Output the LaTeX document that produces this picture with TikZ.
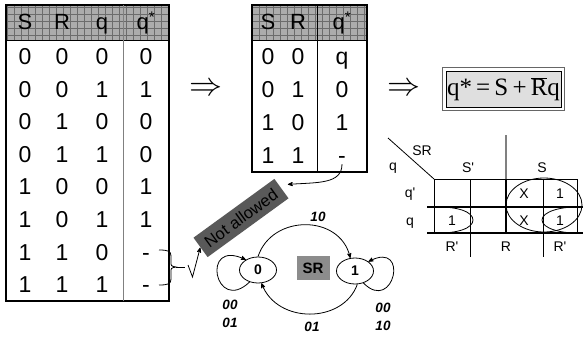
\documentclass[tikz,border=0pt]{standalone}
\usepackage{fontspec}
\setmainfont{Liberation Sans}
\newfontfamily\timesfont{Liberation Serif}
\usetikzlibrary{arrows}
\usetikzlibrary{shapes.geometric}
\tikzset{
    cell/.style = {inner sep=0pt, text height=16.5pt, text depth=0pt, font=\fontsize{23}{25}\selectfont},
    hcell/.style = {inner sep=0pt, text height=15.7pt, text depth=0pt, font=\fontsize{22}{24}\selectfont},
    head_fill/.style = {fill=gray!65},
    head_grid/.style = {gray!85!black, very thin, step=7pt},
    arrow_sym/.style = {inner sep=0pt},
    state_node/.style = {ellipse, draw=black, thick, minimum width=37pt, minimum height=26pt, inner sep=0pt, font=\bfseries\fontsize{14}{16}\selectfont},
    tlabel/.style = {inner sep=0pt, text height=9.6pt, text depth=0pt, font=\bfseries\itshape\fontsize{13.5}{15}\selectfont},
    klabel/.style = {inner sep=0pt, text height=10pt, text depth=0pt, font=\fontsize{14}{16}\selectfont}
}

\begin{document}
\begin{tikzpicture}[x=1pt, y=-1pt, >=stealth', thick]
\useasboundingbox (0,0) rectangle (583,338);

% full truth table
\fill[head_fill] (6,5) rectangle (169,40);
\draw[head_grid] (6,5) grid (169,40);
\draw[line width=1.5pt] (6,5) rectangle (169,301);
\draw[line width=1pt] (6,40) -- (169,40);
\draw[gray, line width=0.8pt] (123,5) -- (123,301);
\node[hcell] (ah-s) at (25,22) {S};
\node[hcell] (ah-r) at (62,22) {R};
\node[hcell] (ah-q) at (102,22) {q};
\node[hcell] (ah-n) at (146,22) {q\textsuperscript{*}};
\foreach \s/\r/\q/\n [count=\i] in {0/0/0/0, 0/0/1/1, 0/1/0/0, 0/1/1/0, 1/0/0/1, 1/0/1/1, 1/1/0/-, 1/1/1/-} {
    \node[cell] (a\i-s) at (25, {40+32.6*(\i-0.5)}) {\s};
    \node[cell] (a\i-r) at (62, {40+32.6*(\i-0.5)}) {\r};
    \node[cell] (a\i-q) at (102, {40+32.6*(\i-0.5)}) {\q};
    \node[cell] (a\i-n) at (146, {40+32.6*(\i-0.5)}) {\n};
}

% reduced table
\fill[head_fill] (252,5) rectangle (367,40);
\draw[head_grid] (252,5) grid (367,40);
\draw[line width=1.5pt] (252,5) rectangle (367,172);
\draw[line width=1pt] (252,40) -- (367,40);
\draw[line width=0.8pt] (317,5) -- (317,172);
\node[hcell] (bh-s) at (268,22) {S};
\node[hcell] (bh-r) at (298,22) {R};
\node[hcell] (bh-n) at (342,22) {q\textsuperscript{*}};
\foreach \s/\r/\n [count=\i] in {0/0/q, 0/1/0, 1/0/1, 1/1/-} {
    \node[cell] (b\i-s) at (268, {40+33*(\i-0.5)}) {\s};
    \node[cell] (b\i-r) at (298, {40+33*(\i-0.5)}) {\r};
    \node[cell] (b\i-n) at (342, {40+33*(\i-0.5)}) {\n};
}

\node[arrow_sym] (imp1) at (206,89) {\scalebox{3.3}{$\Rightarrow$}};
\node[arrow_sym] (imp2) at (404,89) {\scalebox{3.3}{$\Rightarrow$}};

% characteristic equation
\node[draw=black, line width=0.9pt, fill=gray!25,
      minimum width=115pt, minimum height=36pt, inner sep=0pt,
      font=\timesfont\fontsize{25}{27}\selectfont] (eq) at (503.5,89)
      {q*\,=\,S\,+\,$\overline{\mbox{R}}$q};
\draw[black!60, line width=1.3pt] ([xshift=-3pt,yshift=-3pt]eq.south west) rectangle ([xshift=3pt,yshift=3pt]eq.north east);

% forbidden input
\node[fill=black!65, rotate=36, minimum width=100pt, minimum height=24pt, inner sep=0pt,
      font=\fontsize{16.5}{18}\selectfont] (nall) at (241,218) {Not allowed};
\draw[->] (b4-n.south) .. controls +(0,20) and +(30,-2) .. ([xshift=6pt,yshift=4pt]nall.east);

% brace over the two dont-care rows
\draw (159,250) .. controls (168,250) and (171,251) .. (171,256) -- (171,262)
      .. controls (171,266) .. (176,267) .. controls (171,268) .. (171,272) -- (171,279)
      .. controls (171,284) and (168,285) .. (159,285);
\coordinate (brace_tip) at (176,267);
\coordinate (chk) at (188,265);
\draw (brace_tip) -- (185,267);
\draw[->] (chk) -- ++(4.5,12) -- (nall.west);

% state diagram
\node[state_node] (s0) at (258,270) {0};
\node[state_node] (s1) at (355,271) {1};
\node[fill=black!45, minimum width=33pt, minimum height=24pt, inner sep=0pt,
      font=\bfseries\fontsize{15}{17}\selectfont] (sr) at (313,268) {SR};
\draw[->] (s0.north) .. controls (272,214) and (340,214) .. (s1.110);
\draw[->] (s1.-80) .. controls (343,324) and (277,324) .. (s0.-75);
\draw[->] (s0.-125) .. controls (215,315) and (200,238) .. (s0.140);
\draw[->] (s1.-55) .. controls (394,314) and (410,240) .. (s1.35);
\node[tlabel] (l10) at (318,217) {10};
\node[tlabel] (l01) at (312,327) {01};
\node[tlabel] (l00a) at (230,305) {00};
\node[tlabel] (l01a) at (230,323) {01};
\node[tlabel] (l00b) at (383,308) {00};
\node[tlabel] (l10b) at (383,326) {10};

% Karnaugh map
\draw (388,138) -- (434,179);
\draw[gray, line width=1.3pt] (506,135) -- (506,179);
\draw[line width=1pt] (434,179) -- (577,179);
\draw[line width=1.5pt] (427,207) -- (583,207);
\draw[line width=1.5pt] (427,233) -- (583,233);
\draw[line width=1pt] (434,179) -- (434,233);
\draw[line width=1pt] (470,179) -- (470,257);
\draw[line width=1.3pt] (506,179) -- (506,233);
\draw[line width=1pt] (543,179) -- (543,257);
\draw[line width=1pt] (577,179) -- (577,233);
\node[klabel] (k-sr) at (422,150) {SR};
\node[klabel] (k-q) at (393,165) {q};
\node[klabel] (k-s0) at (468,167) {S\textquotesingle};
\node[klabel] (k-s1) at (542,167) {S};
\node[klabel] (k-q0) at (410,192) {q\textquotesingle};
\node[klabel] (k-q1) at (410,220) {q};
\node[klabel] (k-r0) at (452,246) {R\textquotesingle};
\node[klabel] (k-r1) at (506,246) {R};
\node[klabel] (k-r2) at (560,246) {R\textquotesingle};
\node[klabel] (c03) at (524,193) {X};
\node[klabel] (c04) at (560,193) {1};
\node[klabel] (c11) at (452,220) {1};
\node[klabel] (c13) at (524,220) {X};
\node[klabel] (c14) at (560,220) {1};
\draw (544,205) ellipse [x radius=38pt, y radius=27pt];
\draw (432,207) .. controls (458,206) and (473,212) .. (473,220)
      .. controls (473,228) and (458,234) .. (432,233);
\draw (583,207) .. controls (560,206) and (542,212) .. (542,220)
      .. controls (542,228) and (560,234) .. (583,233);
\end{tikzpicture}
\end{document}
